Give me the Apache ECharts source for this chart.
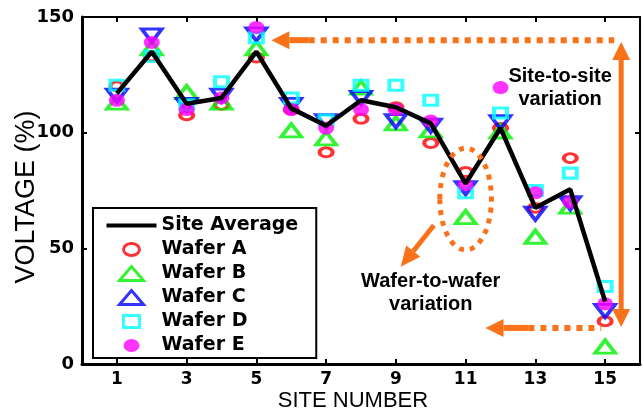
<!DOCTYPE html>
<html>
<head>
<meta charset="utf-8">
<script src="https://cdn.jsdelivr.net/npm/echarts@6/dist/echarts.min.js"></script>
<style>
html, body { margin: 0; padding: 0; background: #fff; }
#chart { width: 642px; height: 414px; }
</style>
</head>
<body>
<div id="chart"></div>
<script>
// site numbers and tick labels
const sites = [1, 2, 3, 4, 5, 6, 7, 8, 9, 10, 11, 12, 13, 14, 15]
const xTicks = [1, 3, 5, 7, 9, 11, 13, 15]
const yTicks = [0, 50, 100, 150]

// voltage (%) per site
const siteAverage = [117, 135, 112.5, 115, 135, 110.5, 103, 114, 111, 104, 78, 102, 67.5, 75.5, 27]
const waferA = [120, 133, 107.5, 112, 132.5, 110, 91.5, 106, 111, 95.5, 83, 102, 67.5, 89, 18.5]
const waferB = [113, 136.5, 117.5, 113, 136.5, 101, 97.5, 119.5, 104, 101, 63.5, 100.5, 55, 68, 7.5]
const waferC = [116, 142, 112, 116, 142.5, 112, 105, 115, 105, 103, 76, 104.5, 65, 69.5, 23]
const waferD = [120.5, 133, 112, 122, 141, 115, 105.5, 120.5, 120.5, 114, 74, 108.5, 75, 82.5, 33.5]
const waferE = [114, 139, 110, 115, 145.5, 110, 102, 110, 110, 105, 77.5, 119.5, 74, 70, 26]

const pairs = vals => vals.map((v, i) => [sites[i], v])

const orange = '#F9721A'
const tickFont = { fontFamily: 'DejaVu Sans', fontWeight: 'bold', color: '#000' }

const chart = echarts.init(document.getElementById('chart'), null, { renderer: 'canvas' })

function hollow (name, data, symbol, size, color, rotate) {
  return {
    name: name,
    type: 'scatter',
    data: pairs(data),
    symbol: symbol,
    symbolSize: size,
    symbolRotate: rotate || 0,
    itemStyle: { color: 'rgba(0,0,0,0)', borderColor: color, borderWidth: 3.5 }
  }
}

const axisLine = w => ({ show: true, onZero: false, lineStyle: { color: '#000', width: w } })

// legend icons drawn in a 50x16 box (the leading moves pin the box size)
const box = 'path://M0,0M50,16'
const icons = {
  line: box + 'M0,6H50V10H0Z',
  circle: box + 'M17,8A8,6,0,1,1,33,8A8,6,0,1,1,17,8Z',
  triangle: box + 'M13,15L25,1L37,15Z',
  square: box + 'M17,2H33V14H17Z',
  dot: box + 'M17,8A8,6.5,0,1,1,33,8A8,6.5,0,1,1,17,8Z'
}

chart.setOption({
  animation: false,
  backgroundColor: '#fff',
  grid: { left: 82, top: 17, right: 2, bottom: 50 },
  xAxis: [
    {
      type: 'value', min: 0, max: 16, position: 'bottom',
      axisLine: axisLine(3),
      axisTick: { inside: true, length: 5, lineStyle: { width: 2, color: '#000' }, customValues: xTicks },
      axisLabel: Object.assign({ fontSize: 17, margin: 7, customValues: xTicks }, tickFont),
      splitLine: { show: false }
    },
    {
      type: 'value', min: 0, max: 16, position: 'top',
      axisLine: axisLine(2),
      axisTick: { inside: true, length: 5, lineStyle: { width: 2, color: '#000' }, customValues: xTicks },
      axisLabel: { show: false },
      splitLine: { show: false }
    }
  ],
  yAxis: [
    {
      type: 'value', min: 0, max: 150, interval: 50, position: 'left',
      axisLine: axisLine(3),
      axisTick: { inside: true, length: 5, lineStyle: { width: 2, color: '#000' }, customValues: yTicks },
      axisLabel: Object.assign({ fontSize: 18, margin: 8, customValues: yTicks }, tickFont),
      splitLine: { show: false }
    },
    {
      type: 'value', min: 0, max: 150, interval: 50, position: 'right',
      axisLine: axisLine(2),
      axisTick: { inside: true, length: 5, lineStyle: { width: 2, color: '#000' }, customValues: yTicks },
      axisLabel: { show: false },
      splitLine: { show: false }
    }
  ],
  legend: {
    orient: 'vertical',
    left: 93,
    top: 208,
    itemWidth: 50,
    itemHeight: 16,
    itemGap: 5,
    padding: [8, 18, 3, 12],
    borderColor: '#000',
    borderWidth: 2,
    backgroundColor: '#fff',
    selectedMode: false,
    symbolKeepAspect: true,
    textStyle: { fontFamily: 'DejaVu Sans', fontWeight: 'bold', fontSize: 19, color: '#000' },
    data: [
      { name: 'Site Average', icon: icons.line },
      { name: 'Wafer A', icon: icons.circle, itemStyle: { borderWidth: 3 } },
      { name: 'Wafer B', icon: icons.triangle, itemStyle: { borderWidth: 3 } },
      { name: 'Wafer C', icon: icons.triangle, itemStyle: { borderWidth: 3 } },
      { name: 'Wafer D', icon: icons.square, itemStyle: { borderWidth: 3 } },
      { name: 'Wafer E', icon: icons.dot }
    ]
  },
  series: [
    {
      name: 'Site Average',
      type: 'line',
      data: pairs(siteAverage),
      symbol: 'none',
      lineStyle: { color: '#000', width: 4.5 },
      itemStyle: { color: '#000' }
    },
    hollow('Wafer A', waferA, 'circle', [13, 9], '#FF0000'),
    hollow('Wafer B', waferB, 'triangle', [20, 13], '#00F000'),
    hollow('Wafer C', waferC, 'triangle', [20, 13], '#0000FF', 180),
    hollow('Wafer D', waferD, 'rect', [13, 10], '#00FFFF'),
    {
      name: 'Wafer E',
      type: 'scatter',
      data: pairs(waferE),
      symbol: 'circle',
      symbolSize: [16, 13],
      itemStyle: { color: '#FF00FF' }
    }
  ]
})

// annotation anchors, in (site, voltage %) units
const topArrow = { y: 140, tip: 5.43, solidEnd: 6.5, dotEnd: 15.26 }
const sideArrow = { x: 15.46, top: 139.2, bottom: 16 }
const lowArrow = { y: 15.6, tip: 11.57, solidEnd: 12.8, dotEnd: 14.89 }
const waferRing = { x: 11, y: 71.3, rx: 0.74, ry: 22 }
const diagArrow = { from: [10.09, 60], to: [9.14, 42] }
const siteText = [13.71, 119.3]
const waferText = [10.0, 30.7]

const px = p => chart.convertToPixel({ gridIndex: 0 }, p)

function head (tip, from, len, half) {
  const dx = tip[0] - from[0]
  const dy = tip[1] - from[1]
  const d = Math.hypot(dx, dy)
  const ux = dx / d
  const uy = dy / d
  const base = [tip[0] - ux * len, tip[1] - uy * len]
  return {
    base: base,
    el: {
      type: 'polygon',
      shape: { points: [tip, [base[0] - uy * half, base[1] + ux * half], [base[0] + uy * half, base[1] - ux * half]] },
      style: { fill: orange }
    }
  }
}

function seg (a, b, w, dash) {
  return {
    type: 'line',
    shape: { x1: a[0], y1: a[1], x2: b[0], y2: b[1] },
    style: { stroke: orange, lineWidth: w, lineDash: dash || null, lineCap: 'butt' }
  }
}

function text (p, str) {
  return {
    type: 'text',
    x: p[0],
    y: p[1],
    style: {
      text: str,
      font: 'bold 20px "Liberation Sans", Arial, sans-serif',
      fill: '#000',
      align: 'center',
      verticalAlign: 'middle',
      textAlign: 'center',
      textVerticalAlign: 'middle',
      lineHeight: 23
    }
  }
}

const els = []

// site-to-site: top arrow pointing left
{
  const tip = px([topArrow.tip, topArrow.y])
  const solidEnd = px([topArrow.solidEnd, topArrow.y])
  const dotEnd = px([topArrow.dotEnd, topArrow.y])
  const h = head(tip, solidEnd, 18, 9)
  els.push(h.el, seg(h.base, solidEnd, 6), seg(solidEnd, dotEnd, 6, [6, 6]))
}
// vertical double arrow
{
  const top = px([sideArrow.x, sideArrow.top])
  const bottom = px([sideArrow.x, sideArrow.bottom])
  const h1 = head(top, bottom, 18, 9)
  const h2 = head(bottom, top, 18, 9)
  els.push(seg(h1.base, h2.base, 5), h1.el, h2.el)
}
// bottom arrow pointing left
{
  const tip = px([lowArrow.tip, lowArrow.y])
  const solidEnd = px([lowArrow.solidEnd, lowArrow.y])
  const dotEnd = px([lowArrow.dotEnd, lowArrow.y])
  const h = head(tip, solidEnd, 18, 9)
  els.push(h.el, seg(h.base, solidEnd, 6), seg(solidEnd, dotEnd, 6, [6, 6]))
}
// dotted ring round site 11
{
  const c = px([waferRing.x, waferRing.y])
  const e = px([waferRing.x + waferRing.rx, waferRing.y + waferRing.ry])
  els.push({
    type: 'ellipse',
    shape: { cx: c[0], cy: c[1], rx: Math.abs(e[0] - c[0]), ry: Math.abs(e[1] - c[1]) },
    style: { fill: 'none', stroke: orange, lineWidth: 5, lineDash: [5, 6] }
  })
}
// diagonal arrow out of the ring
{
  const a = px(diagArrow.from)
  const b = px(diagArrow.to)
  const h = head(b, a, 20, 9)
  els.push(seg(a, h.base, 5), h.el)
}
els.push(text(px(siteText), 'Site-to-site\nvariation'))
els.push(text(px(waferText), 'Wafer-to-wafer\nvariation'))

// axis titles
els.push({
  type: 'text', x: 27, y: 197, rotation: Math.PI / 2,
  style: { text: 'VOLTAGE (%)', font: '27px "Liberation Sans", Arial, sans-serif', fill: '#000', align: 'center', verticalAlign: 'middle', textAlign: 'center', textVerticalAlign: 'middle' }
})
els.push({
  type: 'text', x: 353, y: 401,
  style: { text: 'SITE NUMBER', font: '22px "Liberation Sans", Arial, sans-serif', fill: '#000', align: 'center', verticalAlign: 'middle', textAlign: 'center', textVerticalAlign: 'middle' }
})

chart.setOption({ graphic: { elements: els.map(e => Object.assign({ z: 100 }, e)) } })
</script>
</body>
</html>
